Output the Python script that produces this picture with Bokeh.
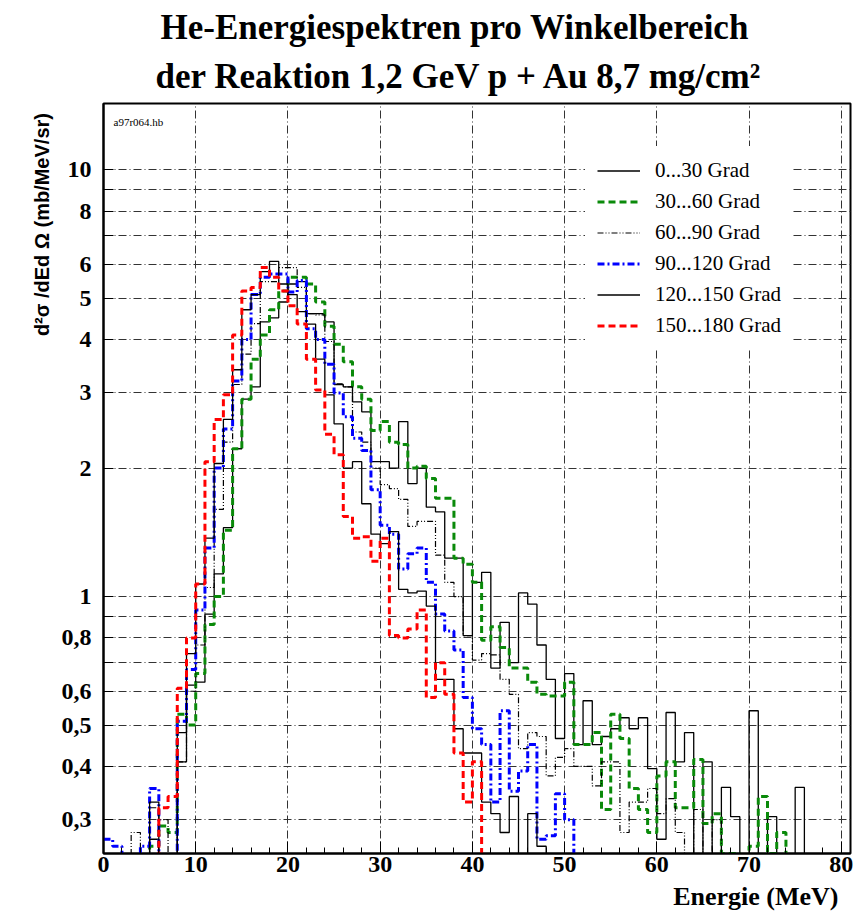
import math
from bokeh.plotting import figure
from bokeh.models import (FixedTicker, SingleIntervalTicker, Label, Legend, LegendItem, Range1d, Title)
from bokeh.embed import file_html
from bokeh.resources import INLINE

# ---------------- data (1 MeV bins, lower edges 0..79) ----------------
# value 0.1 = below the displayed range (line drops out of the frame)
BIN_EDGES = list(range(0, 81))

S_0_30 = [0.1, 0.1, 0.1, 0.1, 0.1, 0.27, 0.1, 0.1, 0.41, 0.62,
          0.63, 0.91, 1.13, 1.45, 2.22, 2.9, 3.1, 4.4, 4.5, 4.9,
          5.4, 5.47, 4.6, 4.6, 4.4, 3.14, 3.1, 2.86, 2.71, 2.07,
          2.07, 2.0, 2.57, 1.84, 2.0, 1.62, 1.58, 1.23, 1.23, 0.81,
          1.08, 1.14, 0.68, 0.87, 0.70, 1.02, 0.96, 0.77, 0.64, 0.465,
          0.66, 0.45, 0.57, 0.45, 0.47, 0.49, 0.52, 0.49, 0.52, 0.395,
          0.27, 0.535, 0.41, 0.48, 0.1, 0.41, 0.1, 0.357, 0.305, 0.1,
          0.54, 0.1, 0.305, 0.1, 0.1, 0.357, 0.1, 0.1, 0.1, 0.1]

S_30_60 = [0.1, 0.1, 0.1, 0.1, 0.1, 0.26, 0.29, 0.28, 0.53, 0.5,
           0.66, 0.86, 1.0, 1.43, 2.22, 2.9, 3.6, 4.1, 4.7, 5.2,
           5.6, 5.6, 5.4, 4.9, 4.3, 3.9, 3.55, 3.1, 2.9, 2.45,
           2.57, 2.3, 2.27, 2.0, 2.02, 1.89, 1.7, 1.7, 1.23, 1.19,
           1.08, 0.79, 0.85, 0.76, 0.68, 0.68, 0.63, 0.59, 0.585, 0.585,
           0.63, 0.45, 0.45, 0.48, 0.317, 0.53, 0.465, 0.355, 0.317, 0.28,
           0.38, 0.41, 0.32, 0.32, 0.415, 0.294, 0.31, 0.25, 0.25, 0.1,
           0.26, 0.34, 0.25, 0.28, 0.1, 0.1, 0.1, 0.1, 0.1, 0.1]

S_60_90 = [0.1, 0.1, 0.1, 0.28, 0.1, 0.32, 0.30, 0.1, 0.41, 0.6,
           0.77, 1.05, 1.6, 2.3, 3.14, 3.7, 4.36, 5.47, 5.47, 5.9,
           5.9, 5.3, 4.6, 4.57, 3.96, 3.15, 3.1, 2.43, 2.3, 2.0,
           1.83, 1.79, 1.69, 1.46, 1.5, 1.5, 1.25, 1.08, 1.0, 0.81,
           0.71, 0.735, 0.73, 0.64, 0.59, 0.44, 0.48, 0.47, 0.38, 0.42,
           0.44, 0.40, 0.40, 0.36, 0.41, 0.41, 0.28, 0.33, 0.33, 0.355,
           0.31, 0.336, 0.28, 0.1, 0.317, 0.1, 0.30, 0.1, 0.1, 0.1,
           0.1, 0.1, 0.1, 0.1, 0.1, 0.1, 0.1, 0.1, 0.1, 0.1]

S_90_120 = [0.27, 0.26, 0.1, 0.1, 0.26, 0.355, 0.1, 0.1, 0.51, 0.675,
            0.93, 1.3, 2.0, 2.47, 3.2, 4.0, 5.1, 5.6, 5.7, 5.7,
            5.17, 5.5, 4.24, 4.0, 3.5, 3.0, 2.64, 2.35, 2.2, 1.78,
            1.47, 1.4, 1.16, 1.26, 1.3, 1.08, 0.91, 0.83, 0.75, 0.58,
            0.49, 0.45, 0.33, 0.54, 0.35, 0.39, 0.45, 0.27, 0.275, 0.345,
            0.30, 0.1, 0.1, 0.1, 0.1, 0.1, 0.1, 0.1, 0.1, 0.1,
            0.1, 0.1, 0.1, 0.1, 0.1, 0.1, 0.1, 0.1, 0.1, 0.1,
            0.1, 0.1, 0.1, 0.1, 0.1, 0.1, 0.1, 0.1, 0.1, 0.1]

S_120_150 = [0.1, 0.1, 0.1, 0.1, 0.1, 0.33, 0.1, 0.1, 0.48, 0.735,
             1.07, 1.37, 2.05, 2.6, 3.4, 4.7, 5.1, 5.77, 6.1, 5.4,
             5.1, 4.65, 4.35, 3.6, 2.97, 2.54, 2.0, 2.07, 1.65, 1.4,
             1.33, 1.42, 1.04, 1.02, 1.03, 0.95, 0.64, 0.64, 0.49, 0.43,
             0.43, 0.33, 0.31, 0.28, 0.34, 0.1, 0.31, 0.26, 0.1, 0.1,
             0.1, 0.1, 0.1, 0.1, 0.1, 0.1, 0.1, 0.1, 0.1, 0.1,
             0.1, 0.1, 0.1, 0.1, 0.1, 0.1, 0.1, 0.1, 0.1, 0.1,
             0.1, 0.1, 0.1, 0.1, 0.1, 0.1, 0.1, 0.1, 0.1, 0.1]

S_150_180 = [0.1, 0.1, 0.1, 0.1, 0.1, 0.1, 0.32, 0.34, 0.61, 0.80,
             1.07, 2.07, 2.6, 2.97, 4.1, 5.2, 5.3, 5.9, 5.6, 5.2,
             4.8, 4.35, 3.6, 3.05, 2.4, 2.15, 1.54, 1.37, 1.38, 1.21,
             1.37, 0.81, 0.80, 0.84, 0.93, 0.58, 0.70, 0.59, 0.43, 0.33,
             0.41, 0.1, 0.1, 0.1, 0.1, 0.1, 0.1, 0.1, 0.1, 0.1,
             0.1, 0.1, 0.1, 0.1, 0.1, 0.1, 0.1, 0.1, 0.1, 0.1,
             0.1, 0.1, 0.1, 0.1, 0.1, 0.1, 0.1, 0.1, 0.1, 0.1,
             0.1, 0.1, 0.1, 0.1, 0.1, 0.1, 0.1, 0.1, 0.1, 0.1]

SERIES_LABELS = ["0...30 Grad", "30...60 Grad", "60...90 Grad",
                 "90...120 Grad", "120...150 Grad", "150...180 Grad"]

Y_TICKS = [0.3, 0.4, 0.5, 0.6, 0.7, 0.8, 0.9, 1, 2, 3, 4, 5, 6, 7, 8, 9, 10]
Y_TICK_LABELS = ["0,3", "0,4", "0,5", "0,6", "", "0,8", "", "1",
                 "2", "3", "4", "5", "6", "", "8", "", "10"]

X_MIN, X_MAX = 0, 81
Y_MIN, Y_MAX = 0.25, 14.3

TITLE_1 = "He-Energiespektren pro Winkelbereich"
TITLE_2 = "der Reaktion 1,2 GeV p + Au 8,7 mg/cm\u00b2"
X_LABEL = "Energie (MeV)"
Y_LABEL = "d\u00b2\u03c3 /dEd \u03a9  (mb/MeV/sr)"
TAG = "a97r064.hb"

# ---------------- styles ----------------
STYLES = [
    dict(line_color="black", line_width=1.3, line_dash="solid"),
    dict(line_color="#0a8a0a", line_width=3, line_dash="7 4"),
    dict(line_color="black", line_width=1.2, line_dash="6 2 1 2 1 2"),
    dict(line_color="#0000ff", line_width=3, line_dash="7 3 2 3"),
    dict(line_color="black", line_width=1.3, line_dash="solid"),
    dict(line_color="#ff0000", line_width=3, line_dash="7 4"),
]

# frame position in the page (pixels) -> helpers for in-frame annotation placement
FL, FR, FT, FB = 103, 850, 103, 853


def sx(px):
    return X_MIN + (px - FL) / (FR - FL) * (X_MAX - X_MIN)


def sy(py):
    a, b = math.log10(Y_MIN), math.log10(Y_MAX)
    return 10 ** (a + (FB - py) / (FB - FT) * (b - a))


p = figure(width=857, height=918, x_range=Range1d(X_MIN, X_MAX),
           y_range=Range1d(Y_MIN, Y_MAX), y_axis_type="log",
           output_backend="svg", toolbar_location=None, title=None,
           min_border_left=FL, min_border_right=857 - FR, min_border_top=FT,
           min_border_bottom=918 - FB, background_fill_color="white",
           border_fill_color="white")

p.outline_line_color = "black"
p.outline_line_width = 2

# axes
p.xaxis.ticker = SingleIntervalTicker(interval=10, num_minor_ticks=5)
p.xaxis.major_tick_in = 12
p.xaxis.major_tick_out = 0
p.xaxis.minor_tick_in = 6
p.xaxis.minor_tick_out = 0
p.xaxis.major_tick_line_color = "black"
p.xaxis.minor_tick_line_color = "black"
p.xaxis.axis_line_width = 2
p.xaxis.major_label_text_font = "Liberation Serif"
p.xaxis.major_label_text_font_style = "bold"
p.xaxis.major_label_text_font_size = "24px"
p.xaxis.major_label_text_color = "black"
p.xaxis.major_label_standoff = 3

p.yaxis.ticker = FixedTicker(ticks=Y_TICKS, minor_ticks=[])
p.yaxis.major_label_overrides = {t: s for t, s in zip(Y_TICKS, Y_TICK_LABELS)}
p.yaxis.major_tick_in = 10
p.yaxis.major_tick_out = 0
p.yaxis.minor_tick_line_color = None
p.yaxis.axis_line_width = 2
p.yaxis.major_label_text_font = "Liberation Serif"
p.yaxis.major_label_text_font_style = "bold"
p.yaxis.major_label_text_font_size = "24px"
p.yaxis.major_label_text_color = "black"
p.yaxis.major_label_standoff = 12

for g in (p.xgrid, p.ygrid):
    g.grid_line_color = "#333333"
    g.grid_line_width = 1
    g.grid_line_dash = "8 3 1 3"
p.ygrid.ticker = FixedTicker(ticks=Y_TICKS, minor_ticks=[])

# histograms
renderers = []
for vals, st in zip([S_0_30, S_30_60, S_60_90, S_90_120, S_120_150, S_150_180], STYLES):
    r = p.step(x=BIN_EDGES, y=vals + [vals[-1]], mode="after", **st)
    renderers.append(r)

legend = Legend(items=[LegendItem(label=lab, renderers=[r]) for lab, r in zip(SERIES_LABELS, renderers)],
                location=(482, 503), orientation="vertical", glyph_width=43,
                glyph_height=21, label_height=21, spacing=6, padding=12, margin=0,
                label_standoff=15, label_text_font="Liberation Serif",
                label_text_font_size="21px", label_text_color="black",
                border_line_alpha=0, background_fill_color="white",
                background_fill_alpha=1)
p.add_layout(legend)

# titles (second line added first: it sits nearest the frame)
p.add_layout(Title(text=TITLE_2, align="left", offset=52, standoff=16,
                   text_font="Liberation Serif", text_font_style="bold",
                   text_font_size="35px", text_color="black"), "above")
p.add_layout(Title(text=TITLE_1, align="left", offset=57, standoff=0,
                   text_font="Liberation Serif", text_font_style="bold",
                   text_font_size="35px", text_color="black",
                   text_line_height=0.9), "above")

# axis titles
p.add_layout(Title(text=X_LABEL, align="right", offset=12, standoff=10,
                   text_font="Liberation Serif", text_font_style="bold",
                   text_font_size="26px", text_color="black"), "below")
p.add_layout(Title(text=Y_LABEL, align="right", offset=4, standoff=12,
                   text_font="Liberation Sans", text_font_style="bold",
                   text_font_size="20px", text_color="black"), "left")

p.add_layout(Label(x=sx(113), y=sy(121), text=TAG,
                   text_align="left", text_baseline="alphabetic",
                   text_font="Liberation Serif", text_font_size="11px",
                   text_color="black"))

open("out.html", "w").write(file_html(p, INLINE, title="He-Energiespektren"))
